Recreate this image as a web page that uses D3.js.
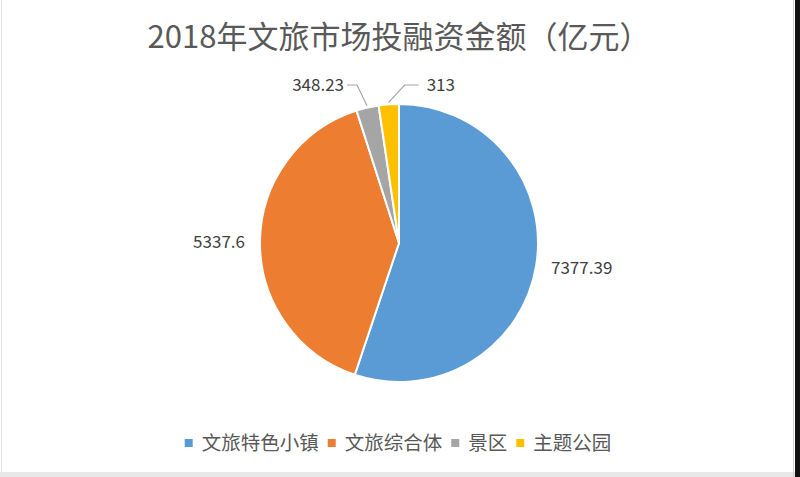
<!DOCTYPE html>
<html><head><meta charset="utf-8">
<script src="https://cdn.jsdelivr.net/npm/d3@7/dist/d3.min.js"></script>
<style>body{margin:0;background:#fff}svg{display:block}</style>
</head><body>
<svg id="c" width="800" height="477"></svg>
<script>
const categories = ["文旅特色小镇", "文旅综合体", "景区", "主题公园"];
const values = [7377.39, 5337.6, 348.23, 313];
const valueLabels = ["7377.39", "5337.6", "348.23", "313"];
const colors = ["#5B9BD5", "#ED7D31", "#A5A5A5", "#FFC000"];
const title = "2018年文旅市场投融资金额（亿元）";

const svg = d3.select("#c");
const W = 800, H = 477;
const font = "'Noto Sans CJK SC', 'Microsoft YaHei', sans-serif";

// frame
svg.append("rect").attr("x",0).attr("y",0).attr("width",W).attr("height",H).attr("fill","#fff");
svg.append("rect").attr("x",1).attr("y",0).attr("width",1).attr("height",H).attr("fill","#e4e4e4");
svg.append("rect").attr("x",0).attr("y",472).attr("width",795).attr("height",5).attr("fill","#e8e8e8");
svg.append("rect").attr("x",793).attr("y",0).attr("width",1).attr("height",H).attr("fill","#d0d0d0");
svg.append("rect").attr("x",795).attr("y",0).attr("width",5).attr("height",H).attr("fill","#111");

svg.append("text").attr("x",399).attr("y",48).attr("text-anchor","middle")
  .attr("font-family",font).attr("font-size",31).attr("fill","#595959").text(title);

const cx = 399, cy = 243, R = 139;
const pie = d3.pie().sort(null).value(d=>d)(values);
const arc = d3.arc().innerRadius(0).outerRadius(R);
const g = svg.append("g").attr("transform",`translate(${cx},${cy})`);
g.selectAll("path").data(pie).join("path")
  .attr("d",arc).attr("fill",(d,i)=>colors[i])
  .attr("stroke","#fff").attr("stroke-width",2).attr("stroke-linejoin","round");

const mid = d => (d.startAngle + d.endAngle)/2;
const labelFont = 17;
pie.forEach((d,i)=>{
  const a = mid(d);
  const sx = Math.sin(a), sy = -Math.cos(a);
  if (i < 2) {
    const rr = R + 15;
    g.append("text").attr("x", rr*sx).attr("y", rr*sy + 6)
      .attr("text-anchor", sx > 0 ? "start" : "end")
      .attr("font-family",font).attr("font-size",labelFont).attr("fill","#404040")
      .text(valueLabels[i]);
  } else {
    const p0 = [ (R+2)*sx, (R+2)*sy ];
    const ey = -R - 19;
    const left = (i === 2);
    const ex = p0[0] + (left ? -10 : 16);
    const hx = ex + (left ? -10 : 14);
    g.append("path").attr("d", `M${p0[0]},${p0[1]}L${ex},${ey}L${hx},${ey}`)
      .attr("fill","none").attr("stroke","#a6a6a6").attr("stroke-width",1.2);
    g.append("text").attr("x", hx + (left ? -3 : 8)).attr("y", ey + 6)
      .attr("text-anchor", left ? "end" : "start")
      .attr("font-family",font).attr("font-size",labelFont).attr("fill","#404040")
      .text(valueLabels[i]);
  }
});

// legend
const lg = svg.append("g");
const legendY = 443;
const legendFont = 19.5;
let x = 0;
categories.forEach((c,i)=>{
  lg.append("rect").attr("x",x).attr("y",legendY-4).attr("width",8).attr("height",8).attr("fill",colors[i]);
  const t = lg.append("text").attr("x",x+17).attr("y",legendY+7)
    .attr("font-family",font).attr("font-size",legendFont).attr("fill","#595959").text(c);
  const w = t.node().getComputedTextLength();
  x += 17 + w + (i < categories.length-1 ? 9 : 0);
});
lg.attr("transform", `translate(${398 - x/2},0)`);
</script>
</body></html>
